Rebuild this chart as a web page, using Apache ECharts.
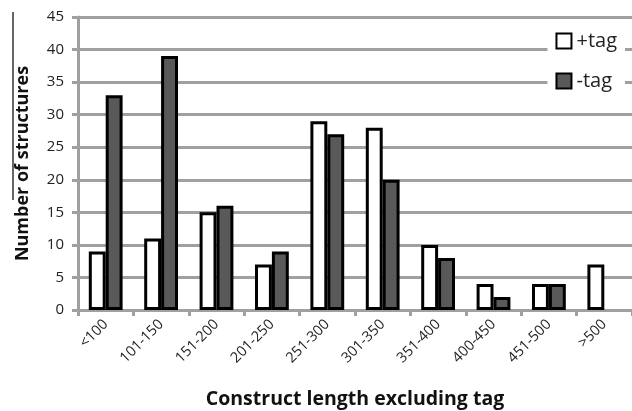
<!DOCTYPE html>
<html>
<head>
<meta charset="utf-8">
<script src="https://cdn.jsdelivr.net/npm/echarts@6/dist/echarts.min.js"></script>
<style>
  html, body { margin: 0; padding: 0; background: #fff; }
  #chart { width: 632px; height: 411px; }
</style>
</head>
<body>
<div id="chart"></div>
<script>
const categories = ["<100", "101-150", "151-200", "201-250", "251-300", "301-350", "351-400", "400-450", "451-500", ">500"];
const plusTag = [9, 11, 15, 7, 29, 28, 10, 4, 4, 7];
const minusTag = [33, 39, 16, 9, 27, 20, 8, 2, 4, 0];

const font = "Open Sans";
const gridGray = "#a0a0a0";

// empty bars get no outline, like the original
function toBarData(values) {
	return values.map((v) => (v === 0 ? { value: v, itemStyle: { borderWidth: 0 } } : v));
}

const chart = echarts.init(document.getElementById("chart"));

chart.setOption({
	animation: false,
	textStyle: { fontFamily: font },
	grid: { left: 78, right: 0, top: 17, bottom: 101, outerBoundsMode: "none" },
	legend: {
		orient: "vertical",
		right: 7,
		top: 25,
		backgroundColor: "#fff",
		padding: [6, 8, 6, 8],
		icon: "rect",
		itemWidth: 15,
		itemHeight: 15,
		itemGap: 20,
		textStyle: { fontSize: 20, color: "#222", fontFamily: font },
		data: ["+tag", "-tag"],
	},
	xAxis: {
		type: "category",
		data: categories,
		name: "Construct length excluding tag",
		nameLocation: "middle",
		nameGap: 79,
		nameTextStyle: { fontSize: 19.5, fontWeight: "bold", color: "#111" },
		axisLine: { lineStyle: { color: gridGray, width: 3 } },
		axisTick: { show: true, length: 6, lineStyle: { color: gridGray, width: 3 } },
		axisLabel: { rotate: 45, fontSize: 14.5, color: "#222", margin: 12 },
	},
	yAxis: {
		type: "value",
		min: 0,
		max: 45,
		interval: 5,
		name: "Number of structures",
		nameLocation: "middle",
		nameGap: 46,
		nameTextStyle: { fontSize: 18, fontWeight: "bold", color: "#111" },
		axisLine: { show: true, lineStyle: { color: gridGray, width: 3 } },
		axisTick: { show: true, length: 6, lineStyle: { color: gridGray, width: 3 } },
		axisLabel: { fontSize: 15, color: "#222", margin: 14 },
		splitLine: { lineStyle: { color: gridGray, width: 3 } },
	},
	graphic: [
		{
			type: "line",
			shape: { x1: 13, y1: 12, x2: 13, y2: 200 },
			style: { stroke: "#000", lineWidth: 1.2 },
		},
	],
	series: [
		{
			name: "+tag",
			type: "bar",
			data: toBarData(plusTag),
			barGap: "0%",
			barCategoryGap: "39%",
			itemStyle: { color: "#fff", borderColor: "#000", borderWidth: 3 },
		},
		{
			name: "-tag",
			type: "bar",
			data: toBarData(minusTag),
			barGap: "0%",
			barCategoryGap: "39%",
			itemStyle: { color: "#595959", borderColor: "#000", borderWidth: 3 },
		},
	],
});
</script>
</body>
</html>
